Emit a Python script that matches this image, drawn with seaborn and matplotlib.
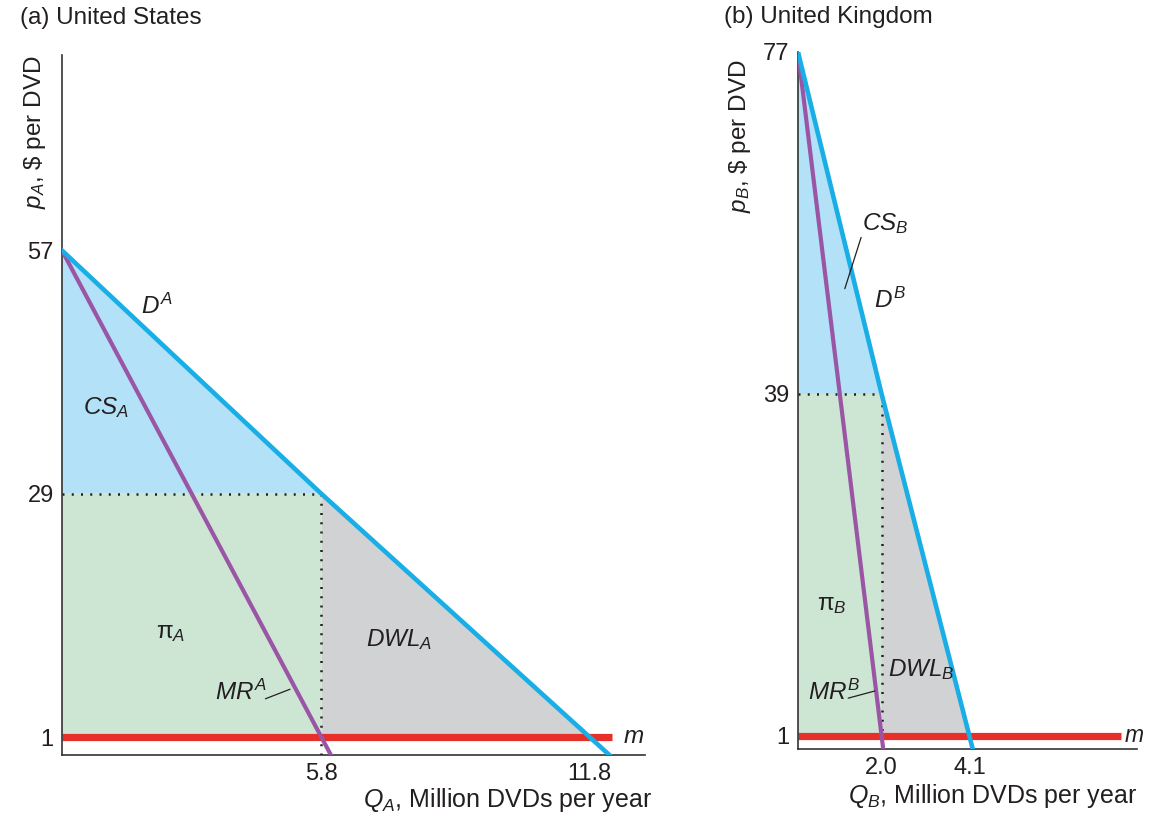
import numpy as np
import pandas as pd
import matplotlib
matplotlib.use("Agg")
import matplotlib.pyplot as plt
import seaborn as sns

# ---- United States (panel a) ----
us_demand_q = [0.0, 5.8, 11.8]
us_demand_p = [57, 29, 1]
us_mr_q = [0.0, 5.8]
us_mr_p = [57, 1]
us_price, us_qty, us_mc = 29, 5.8, 1
us_xticks = [5.8, 11.8]
us_yticks = [1, 29, 57]

# ---- United Kingdom (panel b) ----
uk_demand_q = [0.0, 2.0, 4.1]
uk_demand_p = [77, 39, 1]
uk_mr_q = [0.0, 2.0]
uk_mr_p = [77, 1]
uk_price, uk_qty, uk_mc = 39, 2.0, 1
uk_xticks = [2.0, 4.1]
uk_yticks = [1, 39, 77]

C_DEMAND = "#19aee6"
C_MR = "#9b55a5"
C_M = "#e8302a"
C_CS = "#b3e1f7"
C_PI = "#cde6d4"
C_DWL = "#d1d2d4"
INK = "#231f20"

sns.set_theme(style="white")
plt.rcParams["font.family"] = ["Liberation Sans", "DejaVu Sans"]
plt.rcParams["mathtext.fontset"] = "custom"
plt.rcParams["mathtext.rm"] = "Liberation Sans"
plt.rcParams["mathtext.it"] = "Liberation Sans:italic"
plt.rcParams["mathtext.sf"] = "Liberation Sans"
plt.rcParams["text.color"] = INK

DOTS = (0, (0.8, 2.9))


def extend(q, p, p_end):
    """Continue the last segment of a straight line down to price p_end."""
    slope = (p[-1] - p[-2]) / (q[-1] - q[-2])
    q_end = q[-1] + (p_end - p[-1]) / slope
    return list(q) + [q_end], list(p) + [p_end]


def panel(ax, dq, dp, mq, mp, price, qty, mc, xlim, ylim, xticks, yticks):
    # surplus areas
    ax.fill([0, qty, 0], [dp[0], price, price], color=C_CS, lw=0, zorder=1)
    ax.fill([0, qty, qty, 0], [mc, mc, price, price], color=C_PI, lw=0, zorder=1)
    ax.fill([qty, dq[-1], qty], [price, mc, mc], color=C_DWL, lw=0, zorder=1)

    # marginal cost line
    m_df = pd.DataFrame({"q": [0, xlim[2]], "p": [mc, mc]})
    sns.lineplot(data=m_df, x="q", y="p", ax=ax, color=C_M, lw=5.2,
                 zorder=2, solid_capstyle="butt")

    # monopoly price / quantity guides
    ax.plot([0, qty], [price, price], color=INK, lw=1.8, ls=DOTS, zorder=3)
    ax.plot([qty, qty], [ylim[0], price], color=INK, lw=1.8, ls=DOTS, zorder=3)

    mqe, mpe = extend(mq, mp, ylim[0] - 1)
    mr_df = pd.DataFrame({"q": mqe, "p": mpe})
    sns.lineplot(data=mr_df, x="q", y="p", ax=ax, color=C_MR, lw=3.0,
                 sort=False, zorder=4)
    dqe, dpe = extend(dq, dp, ylim[0] - 1)
    d_df = pd.DataFrame({"q": dqe, "p": dpe})
    sns.lineplot(data=d_df, x="q", y="p", ax=ax, color=C_DEMAND, lw=3.3,
                 sort=False, zorder=5)

    ax.set_xlim(xlim[0], xlim[1])
    ax.set_ylim(ylim)
    ax.set_xticks(xticks)
    ax.set_xticklabels([f"{t:.1f}" for t in xticks])
    ax.set_yticks(yticks)
    ax.set_yticklabels([str(t) for t in yticks])
    ax.tick_params(length=0, labelsize=17, colors=INK, pad=6)
    for s in ["top", "right"]:
        ax.spines[s].set_visible(False)
    for s in ["left", "bottom"]:
        ax.spines[s].set_color("#333333")
        ax.spines[s].set_linewidth(1.2)


fig = plt.figure(figsize=(11.49, 8.24), dpi=100)
ax1 = fig.add_axes([62 / 1149, 69 / 824, 583 / 1149, 700 / 824])
ax2 = fig.add_axes([798 / 1149, 75 / 824, 339 / 1149, 697 / 824])

panel(ax1, us_demand_q, us_demand_p, us_mr_q, us_mr_p, us_price, us_qty, us_mc,
      (0, 13.04, 12.3), (-1.07, 79.5), us_xticks, us_yticks)
panel(ax2, uk_demand_q, uk_demand_p, uk_mr_q, uk_mr_p, uk_price, uk_qty, uk_mc,
      (0, 8.11, 7.72), (-0.45, 77.0), uk_xticks, uk_yticks)

lab = dict(fontsize=17.5, color=INK, ha="center", va="center", zorder=6)

# panel a labels
ax1.text(2.13, 50.6, r"$D^A$", **lab)
ax1.text(0.98, 38.9, r"$CS_A$", **lab)
ax1.text(2.42, 13.0, r"$\mathrm{\pi}_A$", **lab)
ax1.text(7.55, 12.2, r"$DWL_A$", **lab)
ax1.text(4.0, 6.1, r"$MR^A$", **lab)
ax1.plot([4.55, 5.1], [5.4, 6.5], color=INK, lw=0.9, zorder=6)
ax1.text(12.55, 1.0, r"$m$", fontsize=17.5, color=INK, ha="left", va="center",
         clip_on=False)

# panel b labels
ax2.text(2.08, 57.9, r"$CS_B$", **lab)
ax2.plot([1.51, 1.12], [56.4, 50.7], color=INK, lw=0.9, zorder=6)
ax2.text(2.2, 49.4, r"$D^B$", **lab)
ax2.text(0.8, 15.6, r"$\mathrm{\pi}_B$", **lab)
ax2.text(2.95, 8.4, r"$DWL_B$", **lab)
ax2.text(0.86, 5.8, r"$MR^B$", **lab)
ax2.plot([1.2, 1.84], [5.2, 6.0], color=INK, lw=0.9, zorder=6)
ax2.text(7.8, 1.0, r"$m$", fontsize=16.5, color=INK, ha="left", va="center",
         clip_on=False)

# axis titles
ax1.set_ylabel(r"$p_A$, \$ per DVD", fontsize=17.5, color=INK, loc="top")
ax1.yaxis.set_label_coords(-0.024, 1.0)
ax1.set_xlabel(r"$Q_A$, Million DVDs per year", fontsize=18, color=INK, loc="right")
ax1.xaxis.set_label_coords(1.012, -0.045)
ax2.set_ylabel(r"$p_B$, \$ per DVD", fontsize=17.5, color=INK, loc="top")
ax2.yaxis.set_label_coords(-0.132, 0.99)
ax2.set_xlabel(r"$Q_B$, Million DVDs per year", fontsize=18, color=INK, loc="right")
ax2.xaxis.set_label_coords(1.0, -0.048)

fig.text(20 / 1149, 1 - 18 / 824, "(a) United States", fontsize=17.5, color=INK,
         ha="left", va="center")
fig.text(724 / 1149, 1 - 17 / 824, "(b) United Kingdom", fontsize=17.5, color=INK,
         ha="left", va="center")

fig.savefig("out.png", dpi=100, facecolor="white")
